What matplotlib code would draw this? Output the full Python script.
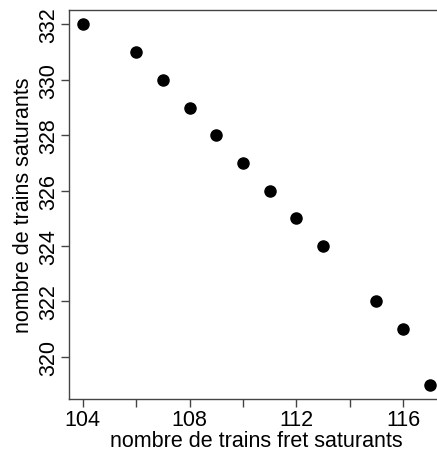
import numpy as np
import matplotlib
matplotlib.use("Agg")
import matplotlib.pyplot as plt

# trains fret saturants vs trains saturants
fret = [104, 106, 107, 108, 109, 110, 111, 112, 113, 115, 116, 117]
total = [332, 331, 330, 329, 328, 327, 326, 325, 324, 322, 321, 319]
xticks = [104, 106, 108, 110, 112, 114, 116]
xlabels = ["104", "", "108", "", "112", "", "116"]
yticks = [320, 322, 324, 326, 328, 330, 332]

plt.rcParams['font.family'] = ['Liberation Sans', 'DejaVu Sans']

fig = plt.figure(figsize=(4.37, 4.56), dpi=100)
ax = fig.add_axes([69 / 437, 56 / 456, 374.6 / 437, 389 / 456])

ax.plot(fret, total, 'o', color='black', markersize=8)

ax.set_xlim(103.48, 117.52)
ax.set_ylim(318.48, 332.52)
ax.set_xticks(xticks)
ax.set_xticklabels(xlabels)
ax.set_yticks(yticks)
ax.set_yticklabels([str(v) for v in yticks], rotation=90, va='center')

for s in ['left', 'bottom', 'top', 'right']:
    ax.spines[s].set_color('#444444')
    ax.spines[s].set_linewidth(1)
ax.tick_params(length=6, width=1, color='#444444', labelsize=15.5, pad=1)

ax.set_xlabel('nombre de trains fret saturants', fontsize=15.5, labelpad=0)
ax.set_ylabel('nombre de trains saturants', fontsize=15.5, labelpad=3)

fig.savefig("out.png", dpi=100)
plt.close(fig)
